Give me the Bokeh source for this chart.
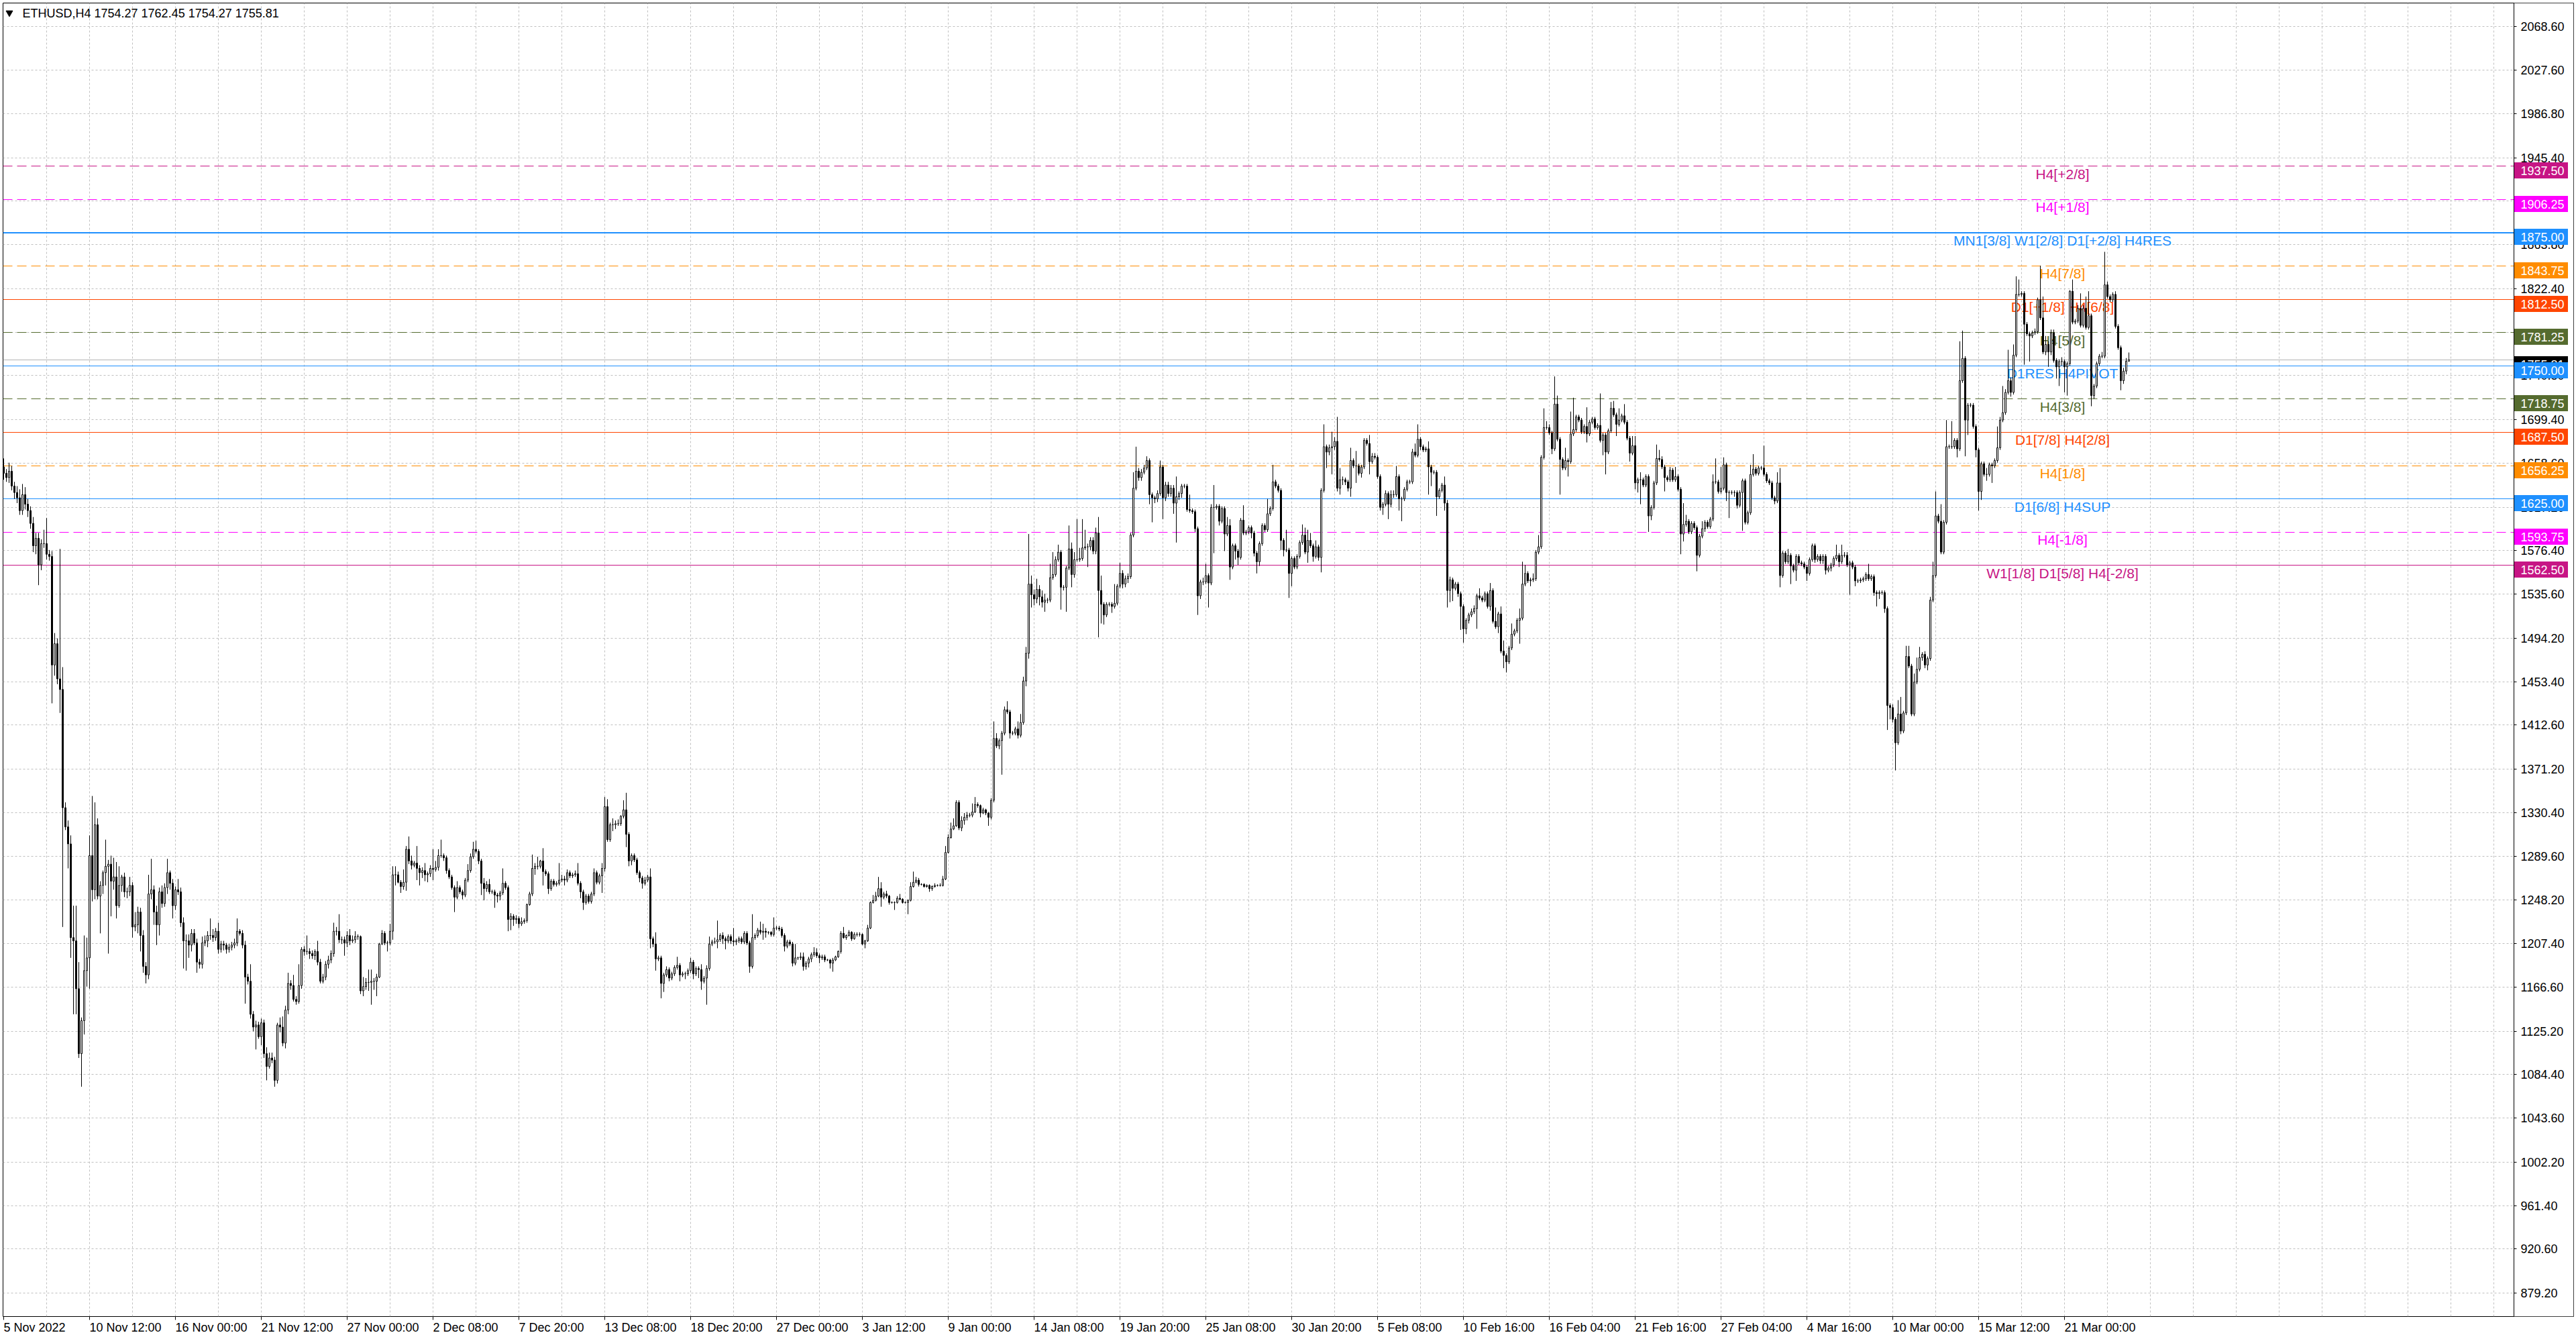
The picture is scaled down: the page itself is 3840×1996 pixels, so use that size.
import math
from bokeh.plotting import figure
from bokeh.models import (ColumnDataSource, FixedTicker, PrintfTickFormatter,
                          CustomJSTickFormatter, Label, Span, Range1d, BoxAnnotation)
from bokeh.embed import file_html
from bokeh.resources import INLINE
from bokeh.core.properties import value

# ---------------- data ----------------
chart_title = "ETHUSD,H4  1754.27 1762.45 1754.27 1755.81"
first_open = 1655.0

closes = [
    1649, 1645, 1651, 1637, 1631, 1626, 1614, 1629, 1620, 1614,
    1602, 1581, 1588, 1563, 1583, 1583, 1573, 1571, 1469, 1489,
    1456, 1446, 1335, 1317, 1301, 1213, 1210, 1165, 1104, 1135,
    1182, 1194, 1290, 1258, 1319, 1252, 1262, 1274, 1280, 1282,
    1266, 1270, 1243, 1262, 1270, 1256, 1256, 1262, 1223, 1225,
    1237, 1215, 1186, 1178, 1254, 1258, 1237, 1225, 1256, 1245,
    1260, 1274, 1264, 1243, 1258, 1256, 1227, 1210, 1210, 1206,
    1217, 1208, 1190, 1188, 1208, 1210, 1215, 1215, 1213, 1219,
    1202, 1207, 1206, 1202, 1204, 1206, 1208, 1219, 1217, 1206,
    1176, 1172, 1141, 1129, 1131, 1120, 1133, 1104, 1092, 1100,
    1098, 1079, 1131, 1129, 1114, 1145, 1170, 1168, 1155, 1153,
    1168, 1202, 1200, 1200, 1198, 1196, 1200, 1190, 1172, 1176,
    1188, 1192, 1198, 1219, 1219, 1211, 1211, 1208, 1215, 1210,
    1211, 1214, 1214, 1163, 1167, 1171, 1171, 1172, 1172, 1176,
    1207, 1217, 1208, 1208, 1219, 1272, 1272, 1265, 1261, 1265,
    1296, 1285, 1281, 1283, 1278, 1274, 1276, 1272, 1273, 1278,
    1277, 1279, 1290, 1290, 1288, 1276, 1270, 1260, 1251, 1260,
    1256, 1253, 1267, 1276, 1289, 1296, 1294, 1285, 1264, 1259,
    1263, 1256, 1256, 1253, 1252, 1255, 1264, 1260, 1230, 1233,
    1230, 1231, 1226, 1228, 1229, 1244, 1254, 1278, 1280, 1280,
    1285, 1275, 1273, 1259, 1266, 1263, 1264, 1267, 1268, 1267,
    1274, 1271, 1272, 1273, 1264, 1256, 1246, 1252, 1247, 1254,
    1274, 1265, 1271, 1278, 1336, 1305, 1319, 1319, 1320, 1320,
    1327, 1333, 1310, 1285, 1290, 1286, 1274, 1269, 1264, 1267,
    1270, 1212, 1207, 1193, 1194, 1170, 1178, 1183, 1175, 1179,
    1185, 1187, 1178, 1179, 1179, 1182, 1190, 1179, 1184, 1183,
    1172, 1175, 1184, 1207, 1209, 1209, 1211, 1215, 1212, 1210,
    1214, 1210, 1209, 1210, 1212, 1209, 1217, 1208, 1186, 1213,
    1215, 1220, 1218, 1219, 1218, 1218, 1216, 1222, 1222, 1221,
    1215, 1205, 1209, 1207, 1189, 1194, 1194, 1195, 1186, 1189,
    1193, 1197, 1199, 1196, 1194, 1195, 1192, 1192, 1189, 1192,
    1195, 1200, 1217, 1213, 1215, 1218, 1212, 1216, 1216, 1216,
    1207, 1210, 1222, 1246, 1248, 1252, 1259, 1251, 1254, 1252,
    1246, 1246, 1246, 1250, 1249, 1246, 1246, 1248, 1261, 1265,
    1267, 1263, 1263, 1261, 1262, 1259, 1261, 1262, 1262, 1262,
    1268, 1293, 1307, 1315, 1318, 1340, 1316, 1323, 1326, 1328,
    1328, 1331, 1338, 1337, 1330, 1333, 1330, 1326, 1342, 1400,
    1393, 1398, 1405, 1427, 1425, 1405, 1405, 1409, 1403, 1415,
    1454, 1480, 1545, 1535, 1531, 1540, 1533, 1528, 1530, 1530,
    1551, 1554, 1568, 1575, 1542, 1542, 1560, 1578, 1554, 1568,
    1568, 1569, 1579, 1580, 1580, 1586, 1576, 1593, 1539, 1526,
    1516, 1526, 1526, 1524, 1527, 1543, 1555, 1545, 1550, 1552,
    1591, 1635, 1651, 1645, 1650, 1654, 1661, 1629, 1626, 1625,
    1630, 1655, 1626, 1638, 1630, 1635, 1621, 1627, 1630, 1637,
    1637, 1615, 1614, 1613, 1597, 1534, 1547, 1547, 1553, 1546,
    1617, 1617, 1618, 1604, 1616, 1592, 1600, 1561, 1581, 1576,
    1570, 1605, 1593, 1594, 1598, 1593, 1574, 1566, 1583, 1600,
    1596, 1611, 1616, 1641, 1637, 1633, 1586, 1577, 1577, 1555,
    1569, 1561, 1571, 1584, 1591, 1575, 1586, 1581, 1571, 1580,
    1570, 1633, 1674, 1669, 1673, 1674, 1679, 1635, 1643, 1643,
    1641, 1635, 1661, 1656, 1656, 1649, 1655, 1680, 1677, 1660,
    1665, 1664, 1646, 1617, 1620, 1630, 1620, 1629, 1629, 1646,
    1625, 1625, 1634, 1641, 1641, 1669, 1666, 1681, 1674, 1671,
    1672, 1655, 1650, 1650, 1627, 1633, 1638, 1621, 1539, 1549,
    1541, 1545, 1536, 1524, 1503, 1511, 1516, 1519, 1522, 1534,
    1532, 1530, 1536, 1524, 1539, 1510, 1505, 1517, 1482, 1478,
    1472, 1485, 1498, 1501, 1511, 1513, 1545, 1555, 1548, 1549,
    1550, 1575, 1580, 1664, 1692, 1692, 1687, 1672, 1714, 1681,
    1662, 1654, 1661, 1660, 1686, 1690, 1702, 1699, 1688, 1693,
    1686, 1697, 1700, 1692, 1694, 1680, 1685, 1669, 1689, 1710,
    1704, 1695, 1699, 1703, 1697, 1682, 1668, 1675, 1640, 1643,
    1643, 1638, 1646, 1609, 1617, 1640, 1663, 1662, 1655, 1645,
    1643, 1652, 1643, 1646, 1634, 1592, 1601, 1604, 1594, 1602,
    1598, 1572, 1590, 1597, 1603, 1599, 1606, 1641, 1641, 1632,
    1635, 1657, 1631, 1631, 1631, 1631, 1619, 1631, 1642, 1603,
    1612, 1648, 1653, 1649, 1654, 1654, 1648, 1642, 1640, 1626,
    1623, 1640, 1553, 1574, 1566, 1572, 1562, 1558, 1571, 1565,
    1564, 1561, 1555, 1568, 1581, 1568, 1571, 1567, 1571, 1558,
    1560, 1563, 1569, 1572, 1566, 1572, 1572, 1563, 1565, 1561,
    1548, 1548, 1549, 1550, 1554, 1550, 1552, 1537, 1536, 1537,
    1537, 1522, 1431, 1429, 1418, 1396, 1423, 1407, 1424, 1477,
    1468, 1423, 1453, 1465, 1476, 1479, 1469, 1475, 1530, 1553,
    1609, 1604, 1575, 1603, 1674, 1674, 1674, 1680, 1672, 1736,
    1757, 1699, 1713, 1713, 1693, 1671, 1632, 1658, 1648, 1648,
    1657, 1656, 1661, 1673, 1699, 1706, 1725, 1736, 1725, 1760,
    1817, 1817, 1818, 1789, 1780, 1778, 1781, 1782, 1812, 1795,
    1763, 1770, 1763, 1781, 1755, 1749, 1754, 1754, 1749, 1752,
    1820, 1791, 1792, 1804, 1788, 1804, 1786, 1797, 1722, 1731,
    1752, 1759, 1759, 1826, 1815, 1812, 1817, 1787, 1767, 1736,
    1745, 1754.27, 1755.81,
]

wick_up = [
    8, 4, 8, 5, 4, 6, 8, 10, 7, 5,
    4, 6, 5, 5, 4, 13, 24, 4, 5, 10,
    5, 122, 21, 5, 6, 8, 30, 33, 25, 3,
    33, 19, 19, 56, 21, 6, 4, 2, 25, 4,
    8, 18, 14, 18, 2, 4, 4, 8, 3, 12,
    5, 4, 5, 4, 18, 29, 4, 6, 4, 6,
    4, 13, 2, 4, 3, 10, 4, 5, 6, 6,
    4, 4, 4, 3, 6, 5, 4, 16, 6, 3,
    8, 3, 3, 2, 3, 3, 4, 12, 2, 3,
    4, 3, 16, 3, 4, 3, 4, 3, 6, 5,
    5, 3, 2, 7, 10, 4, 10, 3, 10, 3,
    20, 2, 3, 15, 3, 3, 2, 10, 3, 3,
    3, 4, 3, 8, 4, 16, 3, 3, 4, 6,
    4, 5, 2, 1, 9, 4, 12, 11, 3, 3,
    1, 3, 2, 2, 7, 8, 8, 3, 2, 12,
    3, 12, 5, 2, 16, 3, 3, 7, 2, 3,
    18, 6, 6, 15, 2, 2, 2, 2, 2, 6,
    2, 2, 2, 6, 3, 7, 8, 2, 2, 5,
    3, 5, 2, 2, 2, 2, 14, 2, 2, 3,
    2, 3, 2, 4, 2, 1, 2, 13, 3, 9,
    1, 12, 2, 2, 2, 2, 2, 16, 4, 3,
    3, 2, 2, 3, 10, 2, 2, 2, 2, 2,
    4, 2, 2, 5, 9, 7, 2, 6, 3, 4,
    1, 9, 16, 2, 2, 2, 2, 2, 2, 3,
    2, 8, 2, 11, 2, 2, 2, 3, 2, 2,
    2, 8, 2, 2, 2, 2, 4, 2, 2, 2,
    5, 2, 3, 7, 2, 4, 18, 2, 3, 2,
    2, 2, 12, 2, 2, 2, 2, 2, 2, 22,
    2, 2, 8, 7, 3, 1, 1, 10, 2, 2,
    2, 2, 2, 2, 2, 13, 1, 4, 4, 2,
    2, 2, 5, 4, 2, 2, 2, 1, 1, 2,
    1, 1, 2, 6, 1, 2, 1, 2, 2, 2,
    1, 1, 3, 1, 5, 4, 11, 6, 2, 3,
    1, 1, 1, 2, 4, 1, 1, 1, 4, 10,
    3, 2, 1, 1, 1, 1, 1, 2, 1, 2,
    3, 6, 3, 6, 7, 2, 2, 4, 4, 3,
    2, 8, 7, 2, 1, 2, 1, 1, 2, 16,
    5, 2, 2, 3, 8, 2, 2, 2, 7, 8,
    4, 6, 47, 8, 5, 10, 4, 6, 6, 2,
    13, 21, 3, 7, 2, 2, 2, 22, 6, 7,
    38, 10, 27, 16, 3, 3, 3, 5, 15, 14,
    2, 2, 2, 2, 18, 2, 10, 3, 3, 3,
    2, 15, 23, 3, 3, 3, 4, 2, 2, 2,
    3, 6, 2, 3, 3, 3, 3, 19, 2, 2,
    2, 2, 14, 2, 2, 2, 2, 4, 11, 2,
    3, 21, 2, 2, 2, 2, 8, 6, 2, 2,
    2, 2, 14, 2, 2, 2, 2, 2, 2, 2,
    2, 14, 2, 16, 2, 2, 2, 2, 19, 2,
    2, 2, 2, 2, 10, 7, 10, 7, 2, 6,
    2, 2, 21, 2, 3, 14, 4, 23, 11, 3,
    2, 2, 12, 2, 14, 2, 2, 2, 2, 8,
    3, 3, 2, 2, 2, 3, 2, 4, 4, 10,
    2, 2, 2, 2, 2, 3, 8, 14, 2, 2,
    2, 7, 2, 2, 2, 2, 2, 8, 3, 3,
    2, 2, 2, 2, 2, 2, 2, 3, 3, 2,
    7, 2, 2, 2, 7, 2, 13, 2, 7, 10,
    2, 2, 10, 2, 2, 9, 21, 8, 2, 2,
    5, 2, 11, 2, 18, 6, 3, 2, 26, 8,
    2, 2, 12, 2, 21, 30, 2, 2, 2, 2,
    18, 2, 2, 2, 2, 30, 2, 2, 2, 6,
    7, 2, 11, 2, 11, 2, 2, 9, 9, 2,
    7, 2, 2, 2, 2, 2, 13, 8, 3, 2,
    2, 3, 2, 9, 2, 2, 20, 6, 2, 2,
    2, 2, 2, 7, 2, 2, 2, 7, 22, 2,
    20, 7, 2, 2, 2, 2, 2, 2, 2, 2,
    2, 9, 14, 2, 2, 2, 21, 2, 2, 2,
    2, 10, 14, 2, 2, 6, 2, 2, 2, 2,
    2, 2, 2, 2, 2, 2, 2, 2, 2, 2,
    2, 2, 2, 10, 2, 10, 3, 3, 2, 2,
    2, 2, 2, 2, 2, 10, 2, 2, 2, 2,
    2, 2, 2, 2, 3, 2, 13, 16, 2, 10,
    10, 2, 8, 11, 10, 2, 3, 2, 3, 13,
    23, 2, 16, 2, 25, 2, 24, 2, 2, 37,
    26, 2, 2, 2, 2, 2, 2, 2, 2, 6,
    2, 2, 2, 20, 3, 25, 3, 29, 3, 10,
    17, 14, 2, 2, 2, 2, 2, 3, 2, 32,
    20, 8, 3, 3, 3, 2, 2, 4, 2, 2,
    1, 11, 2, 3, 14, 3, 11, 23, 2, 2,
    2, 2, 4, 31, 3, 2, 2, 3, 2, 2,
    3, 3, 6.64,
]

wick_down = [
    6, 4, 5, 4, 6, 5, 4, 4, 5, 6,
    5, 6, 8, 19, 5, 4, 5, 4, 36, 10,
    5, 22, 112, 3, 23, 19, 69, 24, 4, 31,
    13, 15, 29, 11, 9, 3, 35, 8, 12, 82,
    33, 8, 12, 2, 6, 5, 6, 4, 10, 4,
    8, 15, 6, 8, 4, 5, 12, 19, 10, 4,
    3, 6, 6, 12, 4, 3, 4, 26, 28, 12,
    6, 2, 10, 4, 4, 3, 6, 4, 4, 3,
    4, 3, 5, 4, 3, 3, 3, 3, 2, 3,
    25, 3, 4, 4, 21, 2, 8, 4, 13, 2,
    3, 6, 3, 5, 3, 5, 4, 4, 2, 3,
    2, 3, 4, 3, 5, 3, 4, 3, 2, 2,
    3, 4, 3, 3, 4, 3, 4, 12, 4, 4,
    2, 3, 3, 3, 5, 3, 8, 21, 8, 14,
    1, 1, 2, 8, 2, 8, 10, 1, 6, 3,
    8, 3, 4, 2, 11, 12, 5, 6, 7, 3,
    10, 2, 3, 2, 3, 3, 2, 2, 14, 2,
    2, 4, 2, 2, 2, 2, 2, 3, 11, 11,
    3, 2, 2, 12, 6, 4, 2, 2, 11, 10,
    6, 4, 4, 2, 2, 2, 1, 2, 6, 3,
    2, 13, 2, 5, 2, 2, 2, 2, 2, 5,
    2, 2, 2, 2, 2, 6, 7, 2, 2, 2,
    2, 2, 2, 16, 3, 2, 2, 6, 4, 2,
    2, 2, 12, 5, 4, 2, 2, 4, 5, 2,
    2, 9, 3, 11, 2, 14, 8, 2, 3, 2,
    2, 2, 6, 2, 5, 2, 2, 5, 2, 8,
    8, 2, 25, 2, 2, 2, 6, 2, 5, 8,
    2, 3, 4, 3, 2, 2, 2, 2, 6, 2,
    2, 2, 2, 7, 5, 2, 2, 2, 2, 2,
    2, 5, 2, 2, 3, 2, 2, 2, 4, 3,
    4, 3, 2, 2, 5, 2, 2, 1, 5, 8,
    1, 1, 2, 1, 2, 1, 2, 1, 2, 2,
    1, 4, 1, 1, 1, 1, 1, 9, 2, 2,
    2, 1, 7, 1, 1, 1, 1, 11, 1, 1,
    1, 2, 1, 1, 1, 3, 2, 1, 1, 1,
    1, 1, 1, 1, 1, 1, 2, 3, 4, 3,
    2, 2, 1, 2, 4, 1, 2, 8, 2, 2,
    2, 3, 32, 2, 2, 5, 2, 2, 3, 2,
    2, 5, 5, 12, 6, 4, 8, 5, 9, 3,
    2, 2, 2, 2, 21, 3, 23, 2, 12, 3,
    2, 2, 2, 2, 19, 3, 3, 3, 44, 18,
    9, 2, 2, 6, 2, 2, 2, 4, 3, 4,
    2, 2, 2, 3, 3, 2, 2, 9, 23, 4,
    3, 2, 20, 3, 3, 3, 10, 37, 3, 4,
    2, 2, 2, 2, 3, 18, 3, 3, 2, 23,
    2, 43, 2, 4, 2, 16, 2, 12, 2, 8,
    7, 2, 2, 2, 2, 5, 3, 11, 4, 2,
    2, 2, 2, 2, 2, 2, 9, 6, 2, 23,
    12, 2, 2, 2, 2, 2, 10, 2, 5, 2,
    3, 14, 2, 15, 3, 25, 3, 3, 6, 5,
    3, 3, 8, 2, 16, 2, 4, 2, 2, 12,
    2, 2, 2, 3, 7, 2, 14, 3, 3, 2,
    11, 21, 2, 2, 2, 2, 2, 2, 3, 2,
    2, 26, 13, 2, 18, 2, 2, 7, 16, 11,
    12, 2, 3, 22, 13, 5, 3, 2, 2, 19,
    2, 2, 2, 2, 4, 2, 2, 6, 2, 12,
    10, 2, 2, 2, 2, 22, 2, 2, 2, 5,
    2, 2, 2, 2, 2, 2, 2, 5, 2, 2,
    33, 2, 2, 14, 2, 2, 2, 2, 2, 2,
    8, 2, 2, 2, 2, 2, 14, 21, 2, 2,
    2, 11, 2, 2, 2, 2, 8, 2, 6, 9,
    23, 2, 2, 15, 4, 2, 2, 2, 2, 13,
    2, 2, 2, 2, 2, 19, 7, 2, 2, 2,
    2, 15, 2, 2, 3, 2, 2, 2, 2, 2,
    2, 2, 8, 24, 2, 4, 3, 2, 36, 2,
    2, 2, 2, 2, 2, 2, 2, 2, 2, 2,
    3, 2, 11, 2, 2, 2, 17, 2, 10, 2,
    2, 2, 7, 2, 2, 3, 2, 3, 3, 4,
    2, 3, 2, 2, 5, 2, 2, 2, 28, 2,
    5, 2, 2, 2, 2, 2, 2, 3, 12, 5,
    2, 4, 23, 11, 3, 26, 2, 3, 2, 2,
    2, 2, 2, 2, 2, 3, 3, 5, 2, 2,
    2, 2, 2, 2, 2, 2, 2, 2, 8, 2,
    2, 34, 14, 2, 2, 7, 18, 8, 2, 6,
    2, 16, 2, 2, 2, 2, 2, 2, 4, 2,
    2, 2, 2, 38, 2, 24, 2, 2, 2, 2,
    2, 3, 14, 3, 2, 11, 18, 4, 24, 27,
    2, 2, 2, 2, 2, 2, 2, 2, 10, 3,
    2, 2, 2, 2, 2, 2, 2, 2, 2, 9,
    3, 3, 0,
]

date_labels = ["5 Nov 2022", "10 Nov 12:00", "16 Nov 00:00", "21 Nov 12:00",
               "27 Nov 00:00", "2 Dec 08:00", "7 Dec 20:00", "13 Dec 08:00",
               "18 Dec 20:00", "27 Dec 00:00", "3 Jan 12:00", "9 Jan 00:00",
               "14 Jan 08:00", "19 Jan 20:00", "25 Jan 08:00", "30 Jan 20:00",
               "5 Feb 08:00", "10 Feb 16:00", "16 Feb 04:00", "21 Feb 16:00",
               "27 Feb 04:00", "4 Mar 16:00", "10 Mar 00:00", "15 Mar 12:00",
               "21 Mar 00:00"]
bars_per_date_label = 32
bars_per_vgrid = 16

price_ticks = [2068.60, 2027.60, 1986.80, 1945.40, 1863.80, 1822.40, 1740.80,
               1699.40, 1658.60, 1617.20, 1576.40, 1535.60, 1494.20, 1453.40,
               1412.60, 1371.20, 1330.40, 1289.60, 1248.20, 1207.40, 1166.60,
               1125.20, 1084.40, 1043.60, 1002.20, 961.40, 920.60, 879.20]
hidden_price_ticks = [1904.60, 1781.60]

level_prices = [1937.50, 1906.25, 1875.00, 1843.75, 1812.50, 1781.25, 1750.00,
                1718.75, 1687.50, 1656.25, 1625.00, 1593.75, 1562.50]
level_colors = ["#C71585", "#FF00FF", "#1E90FF", "#FF8C00", "#FF4500", "#556B2F",
                "#1E90FF", "#556B2F", "#FF4500", "#FF8C00", "#1E90FF", "#FF00FF",
                "#C71585"]
level_dashed = [True, True, False, True, False, True, False, True, False, True,
                False, True, False]
level_widths = [1, 1, 2, 1, 1, 1, 1, 1, 1, 1, 1, 1, 1]
level_texts = ["H4[+2/8]", "H4[+1/8]", "MN1[3/8] W1[2/8] D1[+2/8] H4RES", "H4[7/8]",
               "D1[+1/8] H4[6/8]", "H4[5/8]", "D1RES H4PIVOT", "H4[3/8]",
               "D1[7/8] H4[2/8]", "H4[1/8]", "D1[6/8] H4SUP", "H4[-1/8]",
               "W1[1/8] D1[5/8] H4[-2/8]"]
current_price = 1755.81

# ---------------- geometry / style ----------------
# (Bokeh's canvas is translated by half a pixel, so integer frame
#  coordinates give crisp one-pixel lines)
FONT = "Liberation Sans"
PX_BAR = 4.0          # pixels per bar
PX_PRICE = 1.5874     # pixels per price unit
CHART_W = 3743        # candle area width (from frame left) in px
FRAME_W, FRAME_H = 3832, 1958
BORDER_L, BORDER_T, BORDER_R, BORDER_B = 4, 4, 4, 34
X0 = -0.25            # bar b is centred at frame x = 4*b + 1
X1 = X0 + FRAME_W / PX_BAR
X_EDGE = X0 + CHART_W / PX_BAR
Y1 = 2068.6 + 35 / PX_PRICE
Y0 = Y1 - FRAME_H / PX_PRICE

def px_x(sx):
    return X0 + sx / PX_BAR

def px_dy(d):
    return d / PX_PRICE

def snap_sy(price, width=1):
    sy = (Y1 - price) * PX_PRICE
    return round(sy) if width % 2 == 1 else math.floor(sy) + 0.5

def snap(price, width=1):
    return Y1 - snap_sy(price, width) / PX_PRICE

n = min(len(closes), len(wick_up), len(wick_down))
closes = closes[:n]
opens = [first_open] + closes[:-1]
idx = list(range(n))
tops = [max(o, c) for o, c in zip(opens, closes)]
bots = [min(o, c) for o, c in zip(opens, closes)]
highs = [t + w for t, w in zip(tops, wick_up[:n])]
lows = [b - w for b, w in zip(bots, wick_down[:n])]
fills = ["white" if c >= o else "black" for o, c in zip(opens, closes)]

p = figure(frame_width=FRAME_W, frame_height=FRAME_H,
           x_range=Range1d(X0, X1), y_range=Range1d(Y0, Y1),
           output_backend="svg", toolbar_location=None, y_axis_location="right",
           min_border_left=BORDER_L, min_border_top=BORDER_T,
           min_border_right=BORDER_R, min_border_bottom=BORDER_B,
           background_fill_color="white", border_fill_color="white")
p.outline_line_color = "black"
p.outline_line_width = 1

# grid
p.xgrid.ticker = FixedTicker(ticks=[k * bars_per_vgrid for k in range(1, int(X_EDGE // bars_per_vgrid) + 1)])
p.ygrid.ticker = FixedTicker(ticks=sorted(price_ticks + hidden_price_ticks))
for g in (p.xgrid, p.ygrid):
    g.grid_line_color = "#C0C0C0"
    g.grid_line_dash = "3 3"
    g.grid_line_width = 1

# blank price-scale column to the right of the candle area
p.add_layout(BoxAnnotation(left=X_EDGE, fill_color="white", fill_alpha=1.0,
                           line_color=None, level="underlay"))

# x axis: labels start at their tick, like the terminal does
CHAR_W = {"0": .556, "1": .556, "2": .556, "3": .556, "4": .556, "5": .556,
          "6": .556, "7": .556, "8": .556, "9": .556, " ": .278, ":": .278,
          "N": .722, "o": .556, "v": .5, "D": .722, "e": .556, "c": .5,
          "J": .5, "a": .556, "n": .556, "F": .611, "b": .556, "M": .833, "r": .333}
def text_px(s, size):
    return size * sum(CHAR_W.get(ch, 0.556) for ch in s)

tick_starts = [i * bars_per_date_label for i in range(len(date_labels))]
centers = [s + text_px(lbl, 18) / 2.0 / PX_BAR for s, lbl in zip(tick_starts, date_labels)]
ax = p.xaxis[0]
ax.ticker = FixedTicker(ticks=centers, minor_ticks=tick_starts)
ax.formatter = CustomJSTickFormatter(args=dict(pos=centers, names=date_labels), code="""
    let best = 0, d = 1e12;
    for (let i = 0; i < pos.length; i++) {
        const e = Math.abs(pos[i] - tick);
        if (e < d) { d = e; best = i; }
    }
    return names[best];
""")
ax.major_tick_out = 0
ax.major_tick_in = 0
ax.minor_tick_out = 5
ax.minor_tick_in = 0
ax.minor_tick_line_color = "black"
ax.major_label_standoff = 1
ax.major_label_text_font = FONT
ax.major_label_text_font_size = "18px"
ax.major_label_text_color = "black"
ax.axis_line_color = None

# price scale: labels drawn just right of the candle area
ay = p.yaxis[0]
ay.ticker = FixedTicker(ticks=price_ticks)
ay.formatter = PrintfTickFormatter(format="%.2f")
ay.major_tick_out = 0
ay.major_tick_in = 0
ay.minor_tick_out = 0
ay.minor_tick_in = 0
ay.major_label_standoff = -(FRAME_W - CHART_W - 10)
ay.major_label_text_font = FONT
ay.major_label_text_font_size = "18px"
ay.major_label_text_color = "black"
ay.axis_line_color = None

# small tick marks of the price scale
tick_y = [snap(t) for t in price_ticks + hidden_price_ticks]
p.segment(x0=[px_x(CHART_W)] * len(tick_y), y0=tick_y,
          x1=[px_x(CHART_W + 4)] * len(tick_y), y1=tick_y,
          line_color="black", line_width=1)

# level lines (behind candles, only across the candle area)
for pr, col, dashed, w in zip(level_prices, level_colors, level_dashed, level_widths):
    ys = snap(pr, w)
    p.segment(x0=X0, y0=ys, x1=X_EDGE, y1=ys, line_color=col, line_width=w,
              line_dash="14 7" if dashed else "solid")
p.segment(x0=X0, y0=snap(current_price), x1=X_EDGE, y1=snap(current_price),
          line_color="#B4B4B4", line_width=1)

# level captions
LABEL_X = px_x(3070)
cap_src = ColumnDataSource(dict(x=[LABEL_X] * len(level_prices), y=level_prices,
                                text=level_texts, color=level_colors))
p.text(x="x", y="y", text="text", text_color="color", source=cap_src,
       text_font=value(FONT), text_font_size="21px", text_align="center",
       text_baseline="top")

# candles
src = ColumnDataSource(dict(x=idx, top=tops, bottom=bots, high=highs, low=lows, fill=fills))
p.segment(x0="x", y0="low", x1="x", y1="high", source=src, line_color="black", line_width=1)
p.vbar(x="x", width=0.5, top="top", bottom="bottom", fill_color="fill",
       line_color="black", line_width=1, source=src)

# right border of the candle area
p.add_layout(Span(location=px_x(CHART_W), dimension="height",
                  line_color="black", line_width=1, level="annotation"))

# price tags on the price scale
def add_tag(price, bg):
    line_sy = snap_sy(price)
    top_sy, bot_sy = line_sy - 5.5, line_sy + 18.5
    p.add_layout(BoxAnnotation(left=px_x(CHART_W + 0.5), right=px_x(CHART_W + 80.5),
                               top=Y1 - top_sy / PX_PRICE, bottom=Y1 - bot_sy / PX_PRICE,
                               fill_color=bg, fill_alpha=1.0, line_color=None,
                               level="annotation"))
    p.add_layout(Label(x=px_x(CHART_W + 10), y=Y1 - (line_sy + 7) / PX_PRICE,
                       text=f"{price:.2f}", text_font=FONT, text_font_size="18px",
                       text_color="white", text_align="left", text_baseline="middle",
                       level="annotation"))

add_tag(current_price, "black")
for price, col in zip(level_prices, level_colors):
    add_tag(price, col)

# title
p.scatter(x=[px_x(9.5)], y=[Y1 - px_dy(14.5)], marker="inverted_triangle",
          size=10, color="black")
p.add_layout(Label(x=px_x(29), y=Y1 - px_dy(5.6), text=chart_title,
                   text_font=FONT, text_font_size="18px", text_color="black",
                   text_align="left", text_baseline="top"))

open("out.html", "w").write(file_html(p, INLINE, title="ETHUSD,H4"))
